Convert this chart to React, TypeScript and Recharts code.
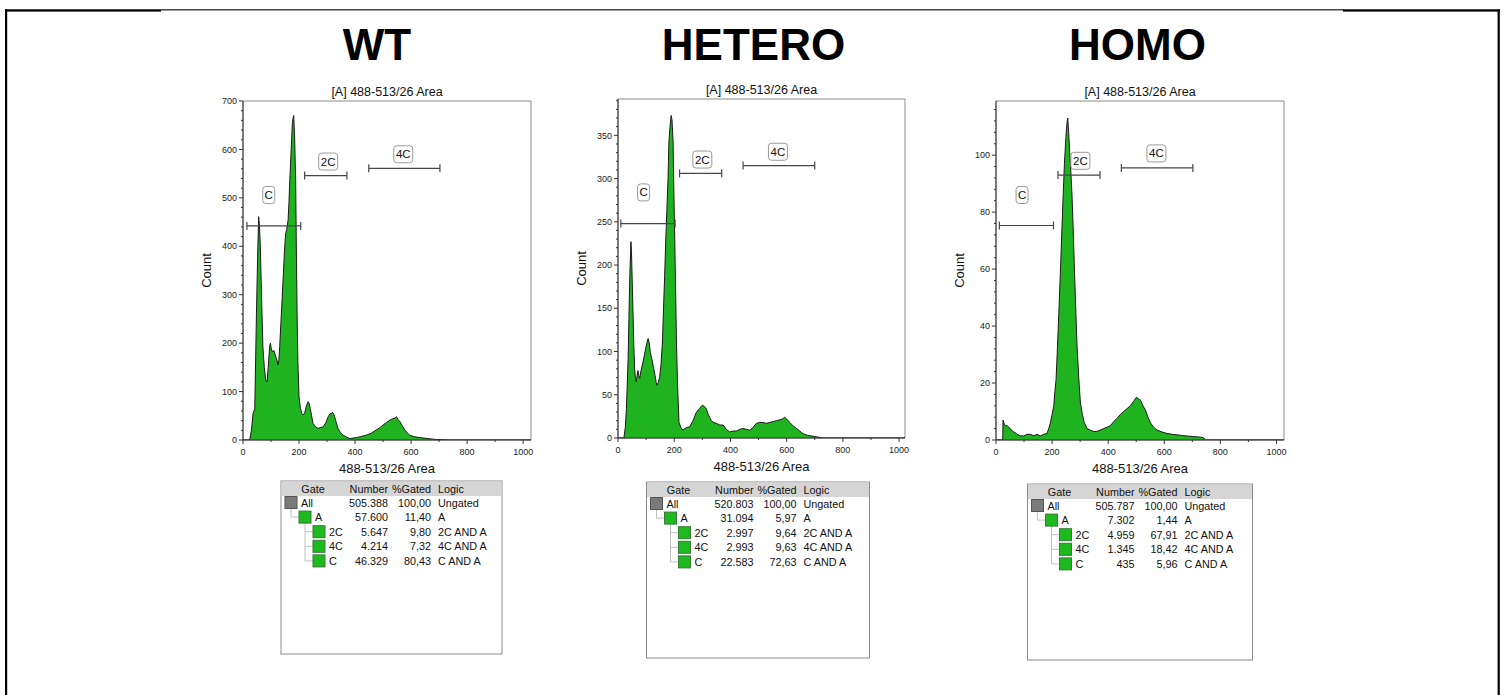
import React from 'react';
import { ComposedChart, Area, XAxis, YAxis, ReferenceLine, ReferenceDot, ReferenceArea } from 'recharts';

const FONT = '"Liberation Sans", Arial, sans-serif';
const GREEN = '#1fb41f';

type Pt = [number, number];

// ---------- histogram data (x = 488-513/26 Area, y = Count) ----------
const wtCounts: Pt[] = [
  [0, 0], [24, 0], [30, 20], [36, 55], [42, 65], [48, 261], [53, 400], [56, 461], [59, 440], [62, 399],
  [66, 300], [71, 193], [76, 150], [81, 124], [86, 120], [90, 150], [95, 193], [98, 200], [101, 188],
  [105, 182], [110, 185], [117, 172], [121, 165], [125, 155], [128, 165], [131, 193], [136, 250],
  [143, 330], [148, 390], [152, 426], [156, 435], [161, 454], [164, 490], [167, 536], [172, 600],
  [176, 653], [179, 665], [181, 670], [184, 630], [188, 536], [190, 420], [193, 261], [196, 160],
  [200, 89], [205, 65], [210, 55], [214, 52], [220, 55], [226, 70], [232, 79], [236, 76], [240, 65],
  [245, 50], [250, 34], [258, 28], [268, 24], [278, 26], [286, 27], [295, 35], [304, 48], [310, 54],
  [315, 55], [320, 57], [324, 53], [327, 48], [333, 36], [339, 24], [348, 15], [357, 10], [370, 6],
  [381, 3], [393, 4], [405, 5], [420, 7], [440, 10], [458, 14], [476, 21], [490, 26], [500, 31],
  [512, 36], [524, 41], [534, 44], [542, 45], [548, 48], [554, 42], [560, 38], [568, 30], [577, 21],
  [586, 15], [595, 10], [610, 7], [631, 5], [660, 3], [690, 1], [738, 0], [1030, 0],
];

const heteroCounts: Pt[] = [
  [0, 0], [21, 0], [26, 12], [30, 34], [36, 92], [42, 188], [45, 215], [46, 227], [48, 215], [53, 150],
  [56, 110], [59, 80], [62, 70], [65, 65], [68, 72], [71, 78], [74, 72], [77, 69], [82, 78], [89, 88],
  [94, 96], [98, 103], [103, 110], [107, 115], [111, 110], [115, 99], [120, 92], [125, 84], [132, 72],
  [136, 64], [139, 61], [143, 64], [148, 70], [153, 85], [158, 111], [162, 150], [166, 188], [170, 230],
  [174, 265], [178, 300], [181, 342], [185, 360], [189, 373], [192, 368], [196, 342], [199, 280],
  [202, 227], [205, 170], [208, 111], [212, 60], [217, 18], [224, 12], [231, 9], [243, 12], [255, 13],
  [267, 20], [279, 30], [290, 34], [297, 37], [302, 38], [308, 36], [314, 34], [320, 28], [326, 24],
  [332, 20], [340, 18], [350, 17], [362, 15], [374, 15], [385, 10], [397, 7], [409, 8], [421, 8],
  [433, 10], [445, 11], [457, 10], [469, 9], [480, 12], [492, 17], [504, 18], [516, 18], [528, 17],
  [540, 18], [552, 19], [563, 20], [575, 21], [585, 22], [593, 24], [600, 22], [611, 18], [623, 14],
  [635, 11], [647, 8], [658, 5], [675, 3], [694, 2], [730, 0], [1030, 0],
];

const homoCounts: Pt[] = [
  [0, 0], [24, 0], [25, 7], [28, 6], [33, 5], [40, 5], [51, 4], [60, 3], [70, 2.5], [75, 2], [87, 1.5],
  [99, 1.4], [110, 2], [122, 2], [135, 1.5], [146, 2], [158, 1.4], [170, 2], [182, 2.3], [188, 4],
  [194, 6], [200, 9], [206, 12], [210, 17], [214, 21], [219, 32], [224, 44.5], [230, 60], [235, 74],
  [240, 87], [244, 97], [248, 104], [251, 109], [254, 112], [256, 113], [259, 108], [263, 101],
  [267, 94], [271, 86], [275, 75], [279, 62], [284, 47], [289, 33], [295, 22], [301, 13], [308, 9],
  [315, 6], [325, 4], [336, 3.5], [348, 3], [360, 3], [372, 3.5], [384, 4], [396, 4.5], [408, 5],
  [420, 6.5], [432, 7.6], [444, 9], [455, 10], [467, 11], [479, 12], [490, 13.5], [501, 15], [508, 14.5],
  [515, 14], [524, 12], [533, 10.5], [542, 8], [551, 6], [562, 4.5], [574, 3.5], [592, 2.8], [610, 2.3],
  [628, 2], [646, 1.8], [664, 1.6], [681, 1.4], [705, 1.2], [729, 1], [740, 0.8], [747, 0], [1030, 0],
];

// ---------- gates (data units) ----------
type Gate = { name: string; x1: number; x2: number; y: number; lx: number; ly: number };
const wtGates: Gate[] = [
  { name: 'C', x1: 14, x2: 206, y: 442, lx: 92, ly: 506 },
  { name: '2C', x1: 220, x2: 371, y: 546, lx: 304, ly: 575 },
  { name: '4C', x1: 449, x2: 703, y: 561, lx: 572, ly: 590 },
];
const heteroGates: Gate[] = [
  { name: 'C', x1: 10, x2: 203, y: 248, lx: 91, ly: 284 },
  { name: '2C', x1: 219, x2: 369, y: 306, lx: 300, ly: 322 },
  { name: '4C', x1: 445, x2: 700, y: 315, lx: 569, ly: 331 },
];
const homoGates: Gate[] = [
  { name: 'C', x1: 12, x2: 205, y: 75.3, lx: 93, ly: 86 },
  { name: '2C', x1: 221, x2: 371, y: 93, lx: 301, ly: 98 },
  { name: '4C', x1: 447, x2: 702, y: 95.5, lx: 572, ly: 100.6 },
];

// ---------- ticks ----------
const xMajorTicks = [0, 200, 400, 600, 800, 1000];
const xMinorTicks = [100, 300, 500, 700, 900];
const wtYTicks = [0, 100, 200, 300, 400, 500, 600, 700];
const heteroYTicks = [0, 50, 100, 150, 200, 250, 300, 350];
const homoYTicks = [0, 20, 40, 60, 80, 100];

// ---------- gate statistics tables ----------
const tableGates = ['All', 'A', '2C', '4C', 'C'];
const tableLevels = [0, 1, 2, 2, 2];
const tableLogic = ['Ungated', 'A', '2C AND A', '4C AND A', 'C AND A'];
const wtNumbers = ['505.388', '57.600', '5.647', '4.214', '46.329'];
const wtPercents = ['100,00', '11,40', '9,80', '7,32', '80,43'];
const heteroNumbers = ['520.803', '31.094', '2.997', '2.993', '22.583'];
const heteroPercents = ['100,00', '5,97', '9,64', '9,63', '72,63'];
const homoNumbers = ['505.787', '7.302', '4.959', '1.345', '435'];
const homoPercents = ['100,00', '1,44', '67,91', '18,42', '5,96'];

const sampleNames = ['WT', 'HETERO', 'HOMO'];
const channelTitle = '[A] 488-513/26 Area';
const xAxisTitle = '488-513/26 Area';
const yAxisTitle = 'Count';

// ---------- helpers ----------
const toRows = (pts: Pt[]) => pts.map(([x, y]) => ({ x, y }));

function minorTicks(majors: number[], max: number, parts: number) {
  const step = (majors[1] - majors[0]) / parts;
  const out: number[] = [];
  for (let v = 0; v <= max + 1e-9; v += step) out.push(Math.round(v * 1000) / 1000);
  return out;
}

const makeYTick = (majors: number[]) => (p: any) => {
  const v = p.payload.value;
  const isMajor = majors.includes(v);
  return (
    <g>
      <line x1={p.x - (isMajor ? 4 : 2)} x2={p.x} y1={p.y} y2={p.y} stroke="#333" strokeWidth={1} />
      {isMajor && (
        <text x={p.x - 6} y={p.y + 3.2} textAnchor="end" fontSize={9} fontFamily={FONT} fill="#222">
          {v}
        </text>
      )}
    </g>
  );
};

const makeXTick = (majors: number[]) => (p: any) => {
  const v = p.payload.value;
  const isMajor = majors.includes(v);
  return (
    <g>
      <line x1={p.x} x2={p.x} y1={p.y} y2={p.y + (isMajor ? 4 : 2)} stroke="#333" strokeWidth={1} />
      {isMajor && (
        <text x={p.x} y={p.y + 15} textAnchor="middle" fontSize={9} fontFamily={FONT} fill="#222">
          {v}
        </text>
      )}
    </g>
  );
};

const GateBar = (p: any) => (
  <g stroke="#454545" strokeWidth={1.2}>
    <line x1={p.x1} y1={p.y1} x2={p.x2} y2={p.y2} />
    <line x1={p.x1} y1={p.y1 - 4} x2={p.x1} y2={p.y1 + 4} />
    <line x1={p.x2} y1={p.y2 - 4} x2={p.x2} y2={p.y2 + 4} />
  </g>
);

const GateTag = ({ cx, cy, text }: any) => {
  const w = text.length > 1 ? 19 : 12;
  const h = 17;
  return (
    <g>
      <rect x={cx - w / 2} y={cy - h / 2} width={w} height={h} rx={3} ry={3} fill="#fff" stroke="#9a9a9a" />
      <text x={cx} y={cy + 4} textAnchor="middle" fontSize={11.5} fontFamily={FONT} fill="#111">
        {text}
      </text>
    </g>
  );
};

type Plot = { x: number; y: number; w: number; h: number };

function Histogram({ counts, gates, xMax, yMax, yMajors, plot }: {
  counts: Pt[]; gates: Gate[]; xMax: number; yMax: number; yMajors: number[]; plot: Plot;
}) {
  const M = { top: 10, right: 10, bottom: 0, left: 0 };
  const YW = 60;
  const XH = 45;
  const width = plot.w + YW + M.right;
  const height = plot.h + M.top + XH;
  const yAll = minorTicks(yMajors, yMax, 5);
  const xAll = [...xMajorTicks, ...xMinorTicks].sort((a, b) => a - b);
  return (
    <div style={{ position: 'absolute', left: plot.x - YW, top: plot.y - M.top, width, height }}>
      <ComposedChart width={width} height={height} data={toRows(counts)} margin={M}>
        <XAxis
          type="number" dataKey="x" domain={[0, xMax]} ticks={xAll} interval={0}
          tickSize={0} tickMargin={0} tickLine={false} tick={makeXTick(xMajorTicks)}
          axisLine={{ stroke: '#333' }} height={XH} allowDataOverflow
        />
        <YAxis
          type="number" domain={[0, yMax]} ticks={yAll} interval={0}
          tickSize={0} tickMargin={0} tickLine={false} tick={makeYTick(yMajors)}
          axisLine={{ stroke: '#333' }} width={YW} allowDataOverflow
        />
        <ReferenceArea x1={0} x2={xMax} y1={0} y2={yMax} fill="none" fillOpacity={0} stroke="#8a8a8a" ifOverflow="visible" />
        <Area
          type="linear" dataKey="y" stroke="#1a1a1a" strokeWidth={1} fill={GREEN} fillOpacity={1}
          isAnimationActive={false} dot={false} activeDot={false}
        />
        {gates.map((g) => (
          <ReferenceLine
            key={'bar' + g.name}
            segment={[{ x: g.x1, y: g.y }, { x: g.x2, y: g.y }]}
            stroke="#454545"
            ifOverflow="visible"
            shape={GateBar}
          />
        ))}
        {gates.map((g) => (
          <ReferenceDot
            key={'tag' + g.name}
            x={g.lx}
            y={g.ly}
            r={0}
            ifOverflow="visible"
            shape={(p: any) => <GateTag {...p} text={g.name} />}
          />
        ))}
      </ComposedChart>
    </div>
  );
}

function GateTable({ L, T, W, H, numbers, percents }: {
  L: number; T: number; W: number; H: number; numbers: string[]; percents: string[];
}) {
  const rowY = (i: number) => T + 21.5 + i * 14.6;
  const sqX = [L + 4, L + 18, L + 32];
  return (
    <g fontFamily={FONT} fontSize={10.8} fill="#111">
      <rect x={L} y={T} width={W} height={H} fill="#fff" stroke="#8c8c8c" />
      <rect x={L + 0.5} y={T + 0.5} width={W - 1} height={14.5} fill="#d5d5d5" />
      <text x={L + 32} y={T + 12} textAnchor="middle">Gate</text>
      <text x={L + 107} y={T + 12} textAnchor="end">Number</text>
      <text x={L + 150} y={T + 12} textAnchor="end">%Gated</text>
      <text x={L + 157} y={T + 12}>Logic</text>
      <path
        d={`M${L + 10} ${rowY(0) + 6} V${rowY(1)} H${L + 18}`}
        stroke="#c0c0c0" fill="none"
      />
      <path
        d={`M${L + 24} ${rowY(1) + 6} V${rowY(4)} M${L + 24} ${rowY(2)} H${L + 32} M${L + 24} ${rowY(3)} H${L + 32} M${L + 24} ${rowY(4)} H${L + 32}`}
        stroke="#c0c0c0" fill="none"
      />
      {tableGates.map((g, i) => {
        const lvl = tableLevels[i];
        const cy = rowY(i);
        return (
          <g key={g}>
            <rect
              x={sqX[lvl]} y={cy - 6} width={12} height={12}
              fill={i === 0 ? '#7a7a7a' : '#1cba1c'} stroke={i === 0 ? '#555' : '#3a7a3a'}
            />
            <text x={sqX[lvl] + 16} y={cy + 4}>{g}</text>
            <text x={L + 107} y={cy + 4} textAnchor="end">{numbers[i]}</text>
            <text x={L + 150} y={cy + 4} textAnchor="end">{percents[i]}</text>
            <text x={L + 157} y={cy + 4}>{tableLogic[i]}</text>
          </g>
        );
      })}
    </g>
  );
}

const plots: Plot[] = [
  { x: 243, y: 101, w: 288, h: 339 },
  { x: 618, y: 99, w: 287, h: 339 },
  { x: 996, y: 101, w: 288, h: 339 },
];
const xMaxes = [1028, 1021, 1027];
const yMaxes = [700, 392, 119];
const titleCenters = [377, 753.5, 1137.5];
const tables = [
  { L: 281, T: 481, W: 221, H: 173 },
  { L: 646.5, T: 482, W: 223, H: 176 },
  { L: 1027.5, T: 484, W: 225, H: 176 },
];

export default function App() {
  const counts = [wtCounts, heteroCounts, homoCounts];
  const gates = [wtGates, heteroGates, homoGates];
  const yMajors = [wtYTicks, heteroYTicks, homoYTicks];
  const numbers = [wtNumbers, heteroNumbers, homoNumbers];
  const percents = [wtPercents, heteroPercents, homoPercents];
  return (
    <div style={{ position: 'absolute', left: 0, top: 0, width: 1507, height: 695, overflow: 'hidden', background: '#fff' }}>
      <svg width={1507} height={695} style={{ position: 'absolute', left: 0, top: 0 }}>
        {/* frame */}
        <rect x={5} y={9.3} width={2.2} height={690} fill="#000" />
        <rect x={1497.6} y={9.3} width={2.2} height={690} fill="#000" />
        <rect x={5} y={9.3} width={156} height={2.3} fill="#000" />
        <rect x={161} y={9.3} width={1183} height={1.1} fill="#000" />
        <rect x={1343} y={9.3} width={157} height={2.3} fill="#000" />
        {sampleNames.map((n, i) => (
          <text key={n} x={titleCenters[i]} y={60} textAnchor="middle" fontFamily={FONT} fontWeight="bold" fontSize={44} fill="#000">
            {n}
          </text>
        ))}
        {plots.map((p, i) => (
          <g key={i} fontFamily={FONT} fill="#111">
            <text x={p.x + p.w / 2} y={p.y - 5} textAnchor="middle" fontSize={12.5}>{channelTitle}</text>
            <text x={p.x + p.w / 2} y={p.y + p.h + 32.6} textAnchor="middle" fontSize={13}>{xAxisTitle}</text>
            <text
              x={p.x - 37} y={p.y + p.h / 2} textAnchor="middle" fontSize={13} dominantBaseline="central"
              transform={`rotate(-90 ${p.x - 37} ${p.y + p.h / 2})`}
            >
              {yAxisTitle}
            </text>
          </g>
        ))}
        {tables.map((t, i) => (
          <GateTable key={i} {...t} numbers={numbers[i]} percents={percents[i]} />
        ))}
      </svg>
      {plots.map((p, i) => (
        <Histogram
          key={i}
          counts={counts[i]}
          gates={gates[i]}
          xMax={xMaxes[i]}
          yMax={yMaxes[i]}
          yMajors={yMajors[i]}
          plot={p}
        />
      ))}
    </div>
  );
}
